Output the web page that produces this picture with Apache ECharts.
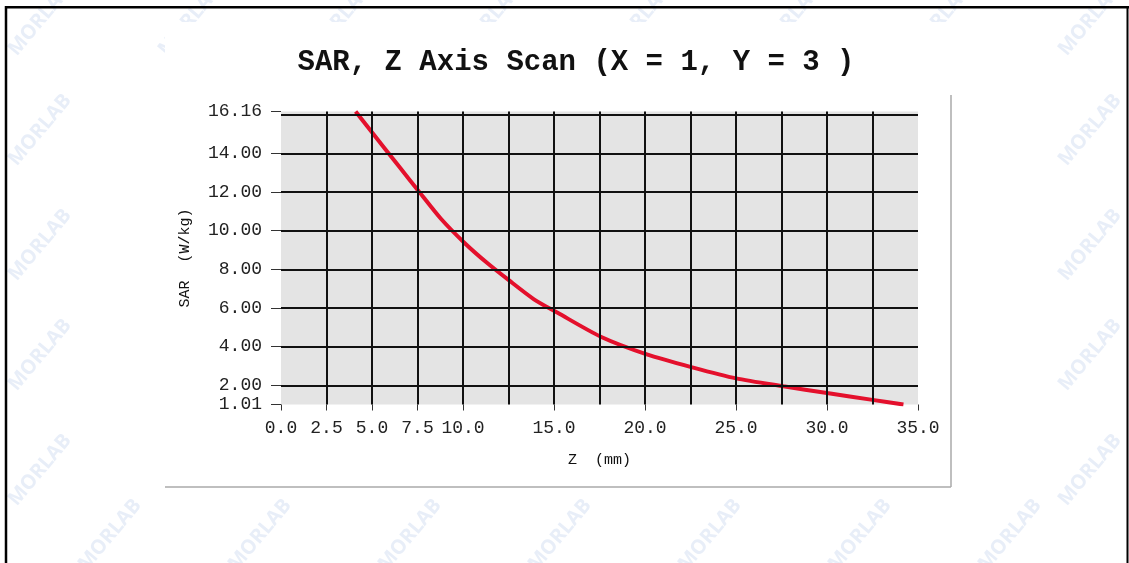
<!DOCTYPE html>
<html>
<head>
<meta charset="utf-8">
<script src="https://cdn.jsdelivr.net/npm/echarts@6/dist/echarts.min.js"></script>
<style>
  html, body { margin: 0; padding: 0; background: #fff; }
  #main { width: 1129px; height: 563px; }
</style>
</head>
<body>
<div id="main"></div>
<script>
var zValues = [4.1, 4.9, 6.5, 7.6, 8.8, 10.1, 11.3, 12.5, 13.9, 15.2, 17.6, 20.1, 22.6, 25.0, 27.6, 30.0, 32.5, 34.2];
var sarValues = [16.16, 15.2, 13.3, 12.0, 10.6, 9.35, 8.35, 7.45, 6.45, 5.75, 4.5, 3.6, 2.93, 2.36, 1.95, 1.6, 1.25, 1.01];
var xTickLabels = [0, 2.5, 5, 7.5, 10, 15, 20, 25, 30, 35];
var yTickLabels = [1.01, 2, 4, 6, 8, 10, 12, 14, 16.16];
var xGridLines = [2.5, 5, 7.5, 10, 12.5, 15, 17.5, 20, 22.5, 25, 27.5, 30, 32.5];
var yGridLines = [2, 4, 6, 8, 10, 12, 14, 16];

var myChart = echarts.init(document.getElementById('main'));

var mono = 'Liberation Mono';

// watermark tiles behind the chart panel
var marks = [];
var rows = [[20, [40, 190, 340, 490, 640, 790, 940, 1090]],
            [130, [40, 1090]], [245, [40, 1090]], [355, [40, 1090]], [470, [40, 1090]],
            [535, [110, 260, 410, 560, 710, 860, 1010]]];
rows.forEach(function (r) {
    r[1].forEach(function (x) {
        marks.push({
            type: 'text', x: x, y: r[0], rotation: 50 * Math.PI / 180, z: 0, silent: true,
            style: { text: 'MORLAB', fill: 'rgba(140,170,220,0.2)', font: 'bold 20px "Noto Sans"',
                     align: 'center', verticalAlign: 'middle' }
        });
    });
});

var frame = [
    { type: 'rect', z: 1, silent: true, shape: { x: 165, y: 22, width: 786, height: 465 }, style: { fill: '#fff' } },
    { type: 'line', z: 1, silent: true, shape: { x1: 951, y1: 95, x2: 951, y2: 487 }, style: { stroke: '#aaa', lineWidth: 1.5 } },
    { type: 'line', z: 1, silent: true, shape: { x1: 165, y1: 487, x2: 951, y2: 487 }, style: { stroke: '#aaa', lineWidth: 1.5 } },
    { type: 'line', z: 5, silent: true, shape: { x1: 5, y1: 7.3, x2: 1129, y2: 7.3 }, style: { stroke: '#000', lineWidth: 2.5 } },
    { type: 'line', z: 5, silent: true, shape: { x1: 6, y1: 6, x2: 6, y2: 563 }, style: { stroke: '#000', lineWidth: 2.5 } },
    { type: 'line', z: 5, silent: true, shape: { x1: 1127.5, y1: 6, x2: 1127.5, y2: 563 }, style: { stroke: '#000', lineWidth: 2 } }
];

var gridLineStyle = { type: 'solid', color: '#111', width: 2 };

var option = {
    animation: false,
    backgroundColor: '#fff',
    title: {
        text: 'SAR, Z Axis Scan (X = 1, Y = 3 )',
        left: 571,
        top: 43,
        z: 6,
        textAlign: 'center',
        textStyle: { fontFamily: mono, fontWeight: 'bold', fontSize: 29, color: '#111' }
    },
    graphic: marks.concat(frame),
    grid: {
        left: 281, right: 211, top: 111.5, bottom: 158.5,
        show: true, backgroundColor: '#e4e4e4', borderWidth: 0, z: 2
    },
    xAxis: {
        type: 'value',
        z: 3,
        min: 0, max: 35,
        name: 'Z  (mm)',
        nameLocation: 'middle',
        nameGap: 48,
        nameTextStyle: { fontFamily: mono, fontSize: 15, color: '#111' },
        axisLine: { show: false },
        splitLine: { show: false },
        axisTick: { show: true, length: 6, customValues: xTickLabels, lineStyle: { color: '#333' } },
        axisLabel: {
            customValues: xTickLabels, margin: 15,
            fontFamily: mono, fontSize: 18, color: '#222',
            formatter: function (v) { return v.toFixed(1); }
        }
    },
    yAxis: {
        type: 'value',
        z: 3,
        min: 1.01, max: 16.16,
        name: 'SAR  (W/kg)',
        nameLocation: 'middle',
        nameRotate: 90,
        nameGap: 88,
        nameTextStyle: { fontFamily: mono, fontSize: 15, color: '#111' },
        axisLine: { show: false },
        splitLine: { show: false },
        axisTick: { show: true, length: 10, customValues: yTickLabels, lineStyle: { color: '#333' } },
        axisLabel: {
            customValues: yTickLabels, margin: 19,
            fontFamily: mono, fontSize: 18, color: '#222',
            formatter: function (v) { return v.toFixed(2); }
        }
    },
    series: [
        {
            name: 'grid',
            type: 'line',
            data: [],
            silent: true,
            markLine: {
                silent: true,
                symbol: 'none',
                label: { show: false },
                emphasis: { disabled: true },
                lineStyle: gridLineStyle,
                data: xGridLines.map(function (v) { return { xAxis: v }; })
                    .concat(yGridLines.map(function (v) { return { yAxis: v }; }))
            }
        },
        {
            name: 'SAR',
            type: 'line',
            z: 4,
            smooth: 0.25,
            showSymbol: false,
            lineStyle: { color: '#e4102c', width: 4 },
            data: zValues.map(function (z, i) { return [z, sarValues[i]]; })
        }
    ]
};

myChart.setOption(option);
</script>
</body>
</html>
